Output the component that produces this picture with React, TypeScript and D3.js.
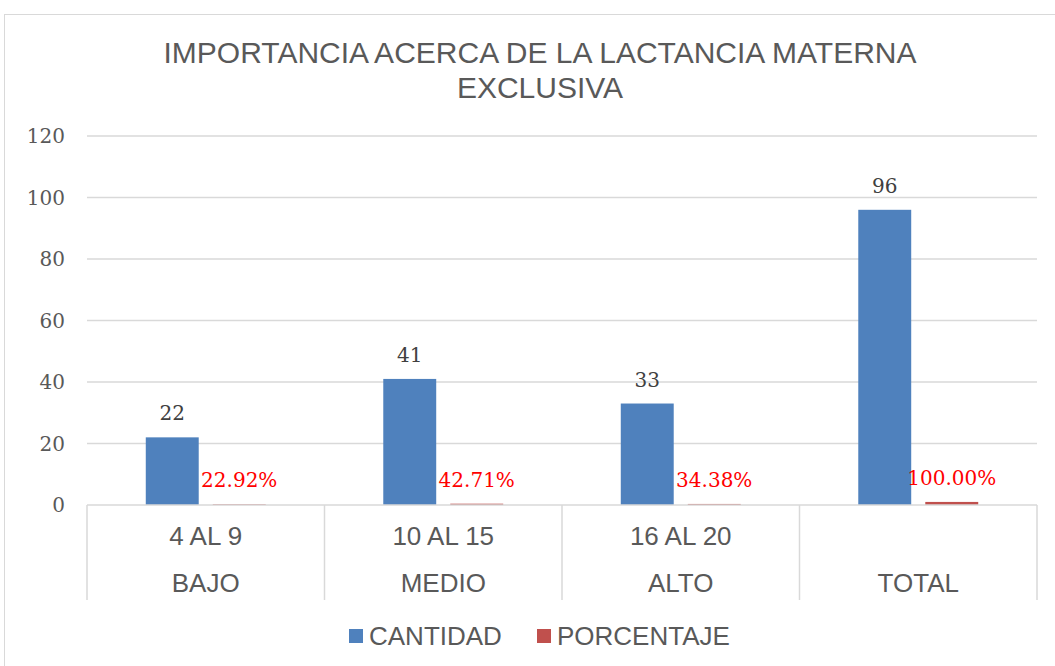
import * as d3 from 'd3';

const niveles = ['BAJO', 'MEDIO', 'ALTO', 'TOTAL'];
const rangos = ['4 AL 9', '10 AL 15', '16 AL 20', ''];
const cantidad = [22, 41, 33, 96];
const porcentaje = [0.2292, 0.4271, 0.3438, 1.0];
const porcentajeLabels = ['22.92%', '42.71%', '34.38%', '100.00%'];
const yTicks = [0, 20, 40, 60, 80, 100, 120];
const series = ['CANTIDAD', 'PORCENTAJE'];

const W = 1055;
const H = 666;
const BLUE = '#4f81bd';
const RED = '#c0504d';
const GRID = '#d9d9d9';
const TEXT = '#595959';
const SANS = '"Liberation Sans", Arial, sans-serif';
const SERIF = '"DejaVu Serif", "Liberation Serif", serif';

export default function App() {
  const plot = { left: 87, right: 1037, top: 136, bottom: 505 };

  const x0 = d3.scaleBand<string>().domain(niveles).range([plot.left, plot.right]).padding(0);
  const x1 = d3
    .scaleBand<string>()
    .domain(series)
    .range([0, x0.bandwidth()])
    .paddingInner(0.21)
    .paddingOuter(0.877);
  const y = d3.scaleLinear().domain([0, 120]).range([plot.bottom, plot.top]);

  const boundaries = niveles.map((n) => x0(n) ?? 0).concat([plot.right]);

  return (
    <svg width={W} height={H} style={{ position: 'absolute', left: 0, top: 0, background: '#fff' }}>
      <rect x={4.5} y={14.5} width={1100} height={700} fill="#fff" stroke={GRID} />

      <text x={540} y={52} dy="0.35em" textAnchor="middle" fontFamily={SANS} fontSize={30} fill={TEXT}>
        IMPORTANCIA ACERCA DE LA LACTANCIA MATERNA
      </text>
      <text x={540} y={87} dy="0.35em" textAnchor="middle" fontFamily={SANS} fontSize={30} fill={TEXT}>
        EXCLUSIVA
      </text>

      {yTicks.map((t) => (
        <g key={t}>
          {t > 0 && (
            <line x1={plot.left} x2={plot.right} y1={y(t)} y2={y(t)} stroke={GRID} strokeWidth={1.5} />
          )}
          <text x={65} y={y(t)} dy="0.35em" textAnchor="end" fontFamily={SERIF} fontSize={20} fill={TEXT}>
            {t}
          </text>
        </g>
      ))}

      {niveles.map((n, i) => {
        const bx = x0(n) ?? 0;
        const cx = bx + (x1('CANTIDAD') ?? 0);
        const px = bx + (x1('PORCENTAJE') ?? 0);
        const bw = x1.bandwidth();
        return (
          <g key={n}>
            <rect x={cx} y={y(cantidad[i])} width={bw} height={plot.bottom - y(cantidad[i])} fill={BLUE} />
            <rect x={px} y={y(porcentaje[i])} width={bw} height={plot.bottom - y(porcentaje[i])} fill={RED} />
            <text x={cx + bw / 2} y={y(cantidad[i]) - 17} textAnchor="middle" fontFamily={SERIF} fontSize={20} fill="#404040">
              {cantidad[i]}
            </text>
            <text x={px + bw / 2} y={y(porcentaje[i]) - 17} textAnchor="middle" fontFamily={SERIF} fontSize={20} fill="#ff0000">
              {porcentajeLabels[i]}
            </text>
            <text x={bx + x0.bandwidth() / 2} y={536} dy="0.35em" textAnchor="middle" fontFamily={SANS} fontSize={26} fill={TEXT}>
              {rangos[i]}
            </text>
            <text x={bx + x0.bandwidth() / 2} y={583} dy="0.35em" textAnchor="middle" fontFamily={SANS} fontSize={26} fill={TEXT}>
              {n}
            </text>
          </g>
        );
      })}

      <line x1={plot.left} x2={plot.right} y1={plot.bottom} y2={plot.bottom} stroke={GRID} strokeWidth={1.5} />
      {boundaries.map((b, i) => (
        <line key={i} x1={b} x2={b} y1={plot.bottom} y2={600} stroke={GRID} strokeWidth={1.5} />
      ))}

      <rect x={349} y={629} width={14} height={14} fill={BLUE} />
      <text x={369} y={636} dy="0.35em" fontFamily={SANS} fontSize={26} fill={TEXT}>
        CANTIDAD
      </text>
      <rect x={537} y={629} width={14} height={14} fill={RED} />
      <text x={557} y={636} dy="0.35em" fontFamily={SANS} fontSize={26} fill={TEXT}>
        PORCENTAJE
      </text>
    </svg>
  );
}
